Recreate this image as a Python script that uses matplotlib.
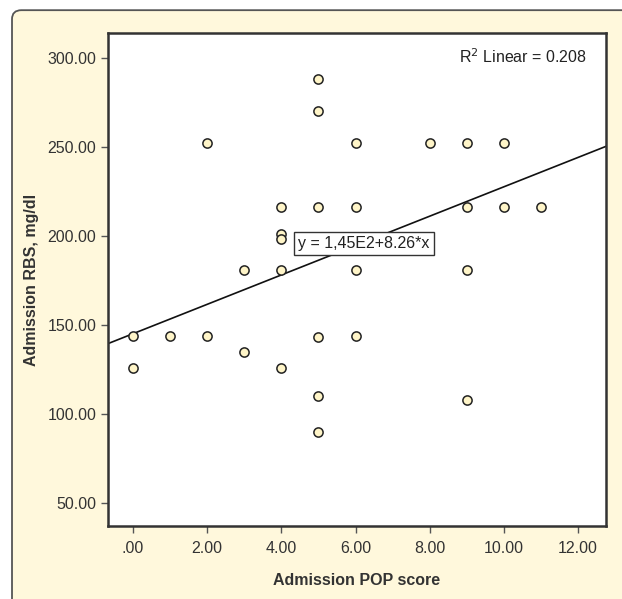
import matplotlib.pyplot as plt
import numpy as np
from matplotlib.patches import FancyBboxPatch

# POP score vs RBS readings
pop_score = [0, 0, 1, 2, 2, 3, 3, 4, 4, 4, 4, 4,
             5, 5, 5, 5, 5, 5, 6, 6, 6, 6, 8, 9, 9, 9, 9, 10, 10, 11]
rbs = [144, 126, 144, 144, 252, 181, 135, 216, 201, 198, 181, 126,
       288, 270, 216, 143, 110, 90, 252, 216, 181, 144, 252, 252, 216, 181, 108, 252, 216, 216]

intercept = 145.0
slope = 8.26
r2_text = 'R$^2$ Linear = 0.208'
eq_text = 'y = 1,45E2+8.26*x'

xticks = [0, 2, 4, 6, 8, 10, 12]
yticks = [50, 100, 150, 200, 250, 300]

plt.rcParams['font.family'] = ['Liberation Sans Narrow', 'Liberation Sans', 'DejaVu Sans']

fig = plt.figure(figsize=(6.22, 5.99), dpi=100)
fig.patch.set_facecolor('white')

# cream rounded panel behind the chart
bg = FancyBboxPatch((0.0193, -0.1), 1.2, 0.983 + 0.1, boxstyle='round,pad=0,rounding_size=0.015',
                    transform=fig.transFigure, facecolor='#fff8dc', edgecolor='#555555',
                    linewidth=1.3, zorder=-5)
fig.patches.append(bg)

ax = fig.add_axes([0.1736, 0.1219, 0.8007, 0.823])
ax.set_zorder(2)
ax.set_facecolor('white')

ax.scatter(pop_score, rbs, s=44, facecolor='#fff5c8', edgecolor='#222222', linewidth=1.1, zorder=3)

xlim = (-0.67, 12.75)
xx = np.array(xlim)
ax.plot(xx, intercept + slope * xx, color='#111111', linewidth=1.2, zorder=2)

ax.set_xlim(*xlim)
ax.set_ylim(37, 314)
ax.set_xticks(xticks)
ax.set_xticklabels(['.00' if t == 0 else '%.2f' % t for t in xticks])
ax.set_yticks(yticks)
ax.set_yticklabels(['%.2f' % t for t in yticks])

for s in ax.spines.values():
    s.set_linewidth(1.8)
    s.set_color('#333333')

ax.tick_params(direction='out', length=5, width=1, color='#555555', labelcolor='#333333', labelsize=11.5)
ax.tick_params(axis='x', pad=6)

ax.set_xlabel('Admission POP score', fontsize=11.5, fontweight='bold', color='#333333', labelpad=12)
ax.set_ylabel('Admission RBS, mg/dl', fontsize=11.5, fontweight='bold', color='#333333', labelpad=6)

ax.text(0.962, 0.972, r2_text, transform=ax.transAxes, ha='right', va='top', fontsize=11.5, color='#222222')
ax.text(6.23, 195.5, eq_text, ha='center', va='center', fontsize=11.5, color='#222222', zorder=4,
        bbox=dict(boxstyle='square,pad=0.25', facecolor='white', edgecolor='#333333', linewidth=1))

plt.savefig('out.png', dpi=100)
